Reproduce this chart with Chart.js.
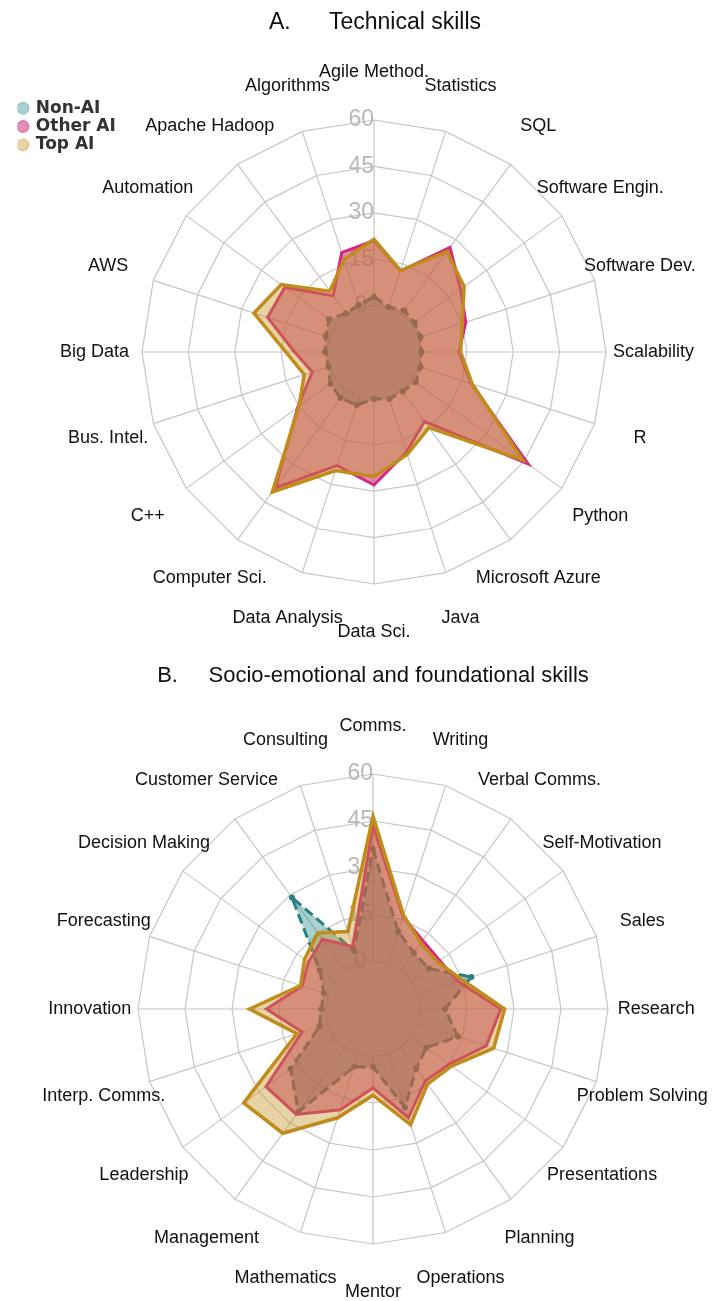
<!DOCTYPE html>
<html><head><meta charset="utf-8">
<script src="https://cdn.jsdelivr.net/npm/chart.js@4.4.1/dist/chart.umd.min.js"></script>
<style>
html,body{margin:0;padding:0;background:#fff;overflow:hidden;}
.wrap{position:relative;width:713px;}
</style></head><body>
<div class="wrap" style="height:650px"><canvas id="ca"></canvas></div>
<div class="wrap" style="height:651px"><canvas id="cb"></canvas></div>
<script>
const seriesNames = ['Non-AI', 'Other AI', 'Top AI'];

const labelsA = ['Agile Method.', 'Statistics', 'SQL', 'Software Engin.', 'Software Dev.', 'Scalability', 'R', 'Python', 'Microsoft Azure', 'Java', 'Data Sci.', 'Data Analysis', 'Computer Sci.', 'C++', 'Bus. Intel.', 'Big Data', 'AWS', 'Automation', 'Apache Hadoop', 'Algorithms'];
const nonAI_A   = [2.9, 0.3, 1.6, 1.2, 0.8, 0.3, 0.8, 1.7, 0.8, 1.0, 0.2, 3.0, 3.4, 2.4, 0.5, 0.8, 1.4, 3.0, 0.4, 1.0];
const otherAI_A = [21, 12.5, 26.8, 19.6, 16.2, 12.5, 18, 46.6, 12.8, 19, 28, 23.6, 39.3, 15.5, 6, 10.7, 21.2, 20.6, 7.5, 18.8];
const topAI_A   = [21.4, 12.7, 25.2, 21, 15, 13, 18.4, 44.4, 15.2, 19.8, 25.3, 25.3, 40.9, 15, 8.7, 13.5, 25.8, 22.1, 9.3, 16.4];

const labelsB = ['Comms.', 'Writing', 'Verbal Comms.', 'Self-Motivation', 'Sales', 'Research', 'Problem Solving', 'Presentations', 'Planning', 'Operations', 'Mentor', 'Mathematics', 'Management', 'Leadership', 'Interp. Comms.', 'Innovation', 'Forecasting', 'Decision Making', 'Customer Service', 'Consulting'];
const nonAI_B   = [36, 11, 7.2, 7, 18, 8, 13.5, 6, 8.5, 18, 3.5, 4.4, 25.5, 17.5, 3, 1.5, 1.5, 6, 29, 4.5];
const otherAI_B = [43.5, 16, 12, 11.3, 13.5, 25.8, 23, 15, 13.4, 21.5, 10.2, 18.8, 26.6, 27.2, 8.8, 19, 8.8, 10.5, 12.5, 6];
const topAI_B   = [46.5, 16.5, 11, 10.5, 15, 27, 25.5, 16, 14.6, 23.8, 12.5, 21.5, 34, 36, 10.5, 24.4, 9.3, 12, 15, 11];

const scaleMin = -15, scaleMax = 60, scaleStep = 15;

Chart.defaults.font.family = '"Liberation Sans", Arial, sans-serif';
Chart.defaults.animation = false;

const outerLabels = {
  id: 'outerLabels',
  afterDraw(chart) {
    const scale = chart.scales.r;
    const ctx = chart.ctx;
    ctx.save();
    ctx.font = '18px "Liberation Sans", Arial, sans-serif';
    ctx.fillStyle = '#111';
    ctx.textAlign = 'center';
    ctx.textBaseline = 'middle';
    chart.data.labels.forEach((lab, i) => {
      const p = scale.getPointPosition(i, scale.drawingArea * 1.205);
      ctx.fillText(lab, p.x, p.y);
    });
    ctx.restore();
  }
};

function makeDatasets(nonAI, otherAI, topAI) {
  return [
    {label: seriesNames[0], data: nonAI, borderColor: 'rgb(40,128,128)', backgroundColor: 'rgba(40,140,140,0.4)',
     borderWidth: 3, borderDash: [10, 5], pointRadius: 3, pointBackgroundColor: 'rgb(40,128,128)', pointBorderWidth: 0,
     fill: 'start', order: 3},
    {label: seriesNames[1], data: otherAI, borderColor: 'rgb(212,40,130)', backgroundColor: 'rgba(200,30,110,0.5)',
     borderWidth: 3, pointRadius: 0, fill: 'start', order: 2},
    {label: seriesNames[2], data: topAI, borderColor: 'rgb(192,140,28)', backgroundColor: 'rgba(196,146,30,0.4)',
     borderWidth: 3.5, pointRadius: 0, fill: 'start', order: 1}
  ];
}

function radialScale() {
  return {
    min: scaleMin, max: scaleMax,
    ticks: {stepSize: scaleStep, showLabelBackdrop: false, color: '#b8b8b8', font: {size: 23},
            callback: v => v < 0 ? '' : v + '    '},
    grid: {color: '#c6c6c6', lineWidth: 1.2, circular: c => !!(c.tick && c.tick.value === 0)},
    angleLines: {
      color: '#c6c6c6', lineWidth: 1.2,
      borderDash: c => [0, c.chart.scales.r.getDistanceFromCenterForValue(0), 4000, 0]
    },
    pointLabels: {display: false}
  };
}

new Chart(document.getElementById('ca'), {
  type: 'radar',
  data: {labels: labelsA, datasets: makeDatasets(nonAI_A, otherAI_A, topAI_A)},
  options: {
    responsive: true, maintainAspectRatio: false, events: [],
    layout: {padding: {left: 17.5, right: 88.8, top: 0, bottom: 52.5}},
    scales: {r: radialScale()},
    plugins: {
      tooltip: {enabled: false},
      title: {display: true, text: 'A.      Technical skills', fullSize: false, color: '#111',
              font: {size: 23, weight: 'normal'}, padding: {top: 9, bottom: 69.9}},
      legend: {
        display: true, position: 'left', align: 'start',
        title: {display: true, text: ' ', font: {size: 10}, padding: {top: 86.5, bottom: 0}},
        labels: {
          usePointStyle: true, boxWidth: 8.5, boxHeight: 8.5, padding: 1.3, color: '#333',
          font: {family: '"DejaVu Sans", sans-serif', size: 17, weight: 'bold'},
          sort: (a, b) => a.datasetIndex - b.datasetIndex,
          generateLabels(chart) {
            const items = Chart.defaults.plugins.legend.labels.generateLabels(chart);
            items.forEach(it => {
              const ds = chart.data.datasets[it.datasetIndex];
              it.fillStyle = ds.backgroundColor;
              it.strokeStyle = ds.backgroundColor;
              it.lineWidth = 1;
              it.lineDash = [];
            });
            return items;
          }
        }
      }
    }
  },
  plugins: [outerLabels]
});

new Chart(document.getElementById('cb'), {
  type: 'radar',
  data: {labels: labelsB, datasets: makeDatasets(nonAI_B, otherAI_B, topAI_B)},
  options: {
    responsive: true, maintainAspectRatio: false, events: [],
    layout: {padding: {left: 60, right: 27, top: 0, bottom: 43.5}},
    scales: {r: radialScale()},
    plugins: {
      tooltip: {enabled: false},
      legend: {display: false},
      title: {display: true, text: 'B.     Socio-emotional and foundational skills', fullSize: false, color: '#111',
              font: {size: 22, weight: 'normal'}, padding: {top: 12.6, bottom: 71.5}}
    }
  },
  plugins: [outerLabels]
});
</script>
</body></html>
